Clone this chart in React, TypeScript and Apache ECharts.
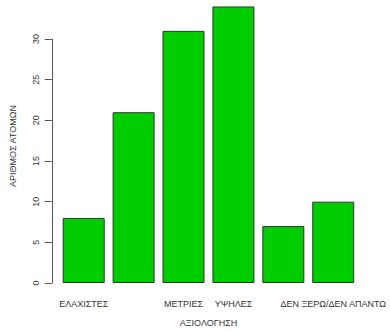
import React, { useEffect, useRef } from "react";
import * as echarts from "echarts";

const categories = ["ΕΛΑΧΙΣΤΕΣ", "", "ΜΕΤΡΙΕΣ", "ΥΨΗΛΕΣ", "", "ΔΕΝ ΞΕΡΩ/ΔΕΝ ΑΠΑΝΤΩ"];
const counts = [8, 21, 31, 34, 7, 10];
const yTicks = { min: 0, max: 30, interval: 5 };
const xTitle = "ΑΞΙΟΛΟΓΗΣΗ";
const yTitle = "ΑΡΙΘΜΟΣ ΑΤΟΜΩΝ";

const FONT = "'Liberation Sans', Arial, sans-serif";

export default function App() {
  const ref = useRef<HTMLDivElement>(null);
  useEffect(() => {
    if (!ref.current) return;
    const chart = echarts.init(ref.current, null, { renderer: "svg" });
    chart.setOption({
      animation: false,
      backgroundColor: "#ffffff",
      textStyle: { fontFamily: FONT },
      grid: { left: 58.75, right: 31.8, top: 39, bottom: 49, containLabel: false },
      xAxis: {
        type: "category",
        data: categories,
        axisLine: { show: false },
        axisTick: { show: false },
        axisLabel: {
          interval: 0,
          hideOverlap: false,
          margin: 16,
          fontSize: 9,
          color: "#333",
          fontFamily: FONT,
        },
        name: xTitle,
        nameLocation: "middle",
        nameGap: 35,
        nameTextStyle: { fontSize: 9, color: "#333", fontFamily: FONT },
      },
      yAxis: {
        type: "value",
        min: yTicks.min,
        max: yTicks.max,
        interval: yTicks.interval,
        offset: 7,
        splitLine: { show: false },
        axisLine: { show: true, lineStyle: { color: "#555", width: 1 } },
        axisTick: { show: true, length: 7, lineStyle: { color: "#555", width: 1 } },
        axisLabel: {
          rotate: 90,
          margin: 11,
          fontSize: 9,
          color: "#333",
          fontFamily: FONT,
        },
      },
      graphic: [
        {
          type: "text",
          x: 13,
          y: 146,
          rotation: Math.PI / 2,
          style: {
            text: yTitle,
            align: "center",
            verticalAlign: "middle",
            fontSize: 9,
            fill: "#333",
            fontFamily: FONT,
          },
        },
      ],
      series: [
        {
          type: "bar",
          data: counts,
          barWidth: 42,
          clip: false,
          itemStyle: { color: "#00CD00", borderColor: "#333", borderWidth: 1 },
        },
      ],
    });
    return () => chart.dispose();
  }, []);
  return <div ref={ref} style={{ width: 390, height: 332, position: "absolute", left: 0, top: 0 }} />;
}
